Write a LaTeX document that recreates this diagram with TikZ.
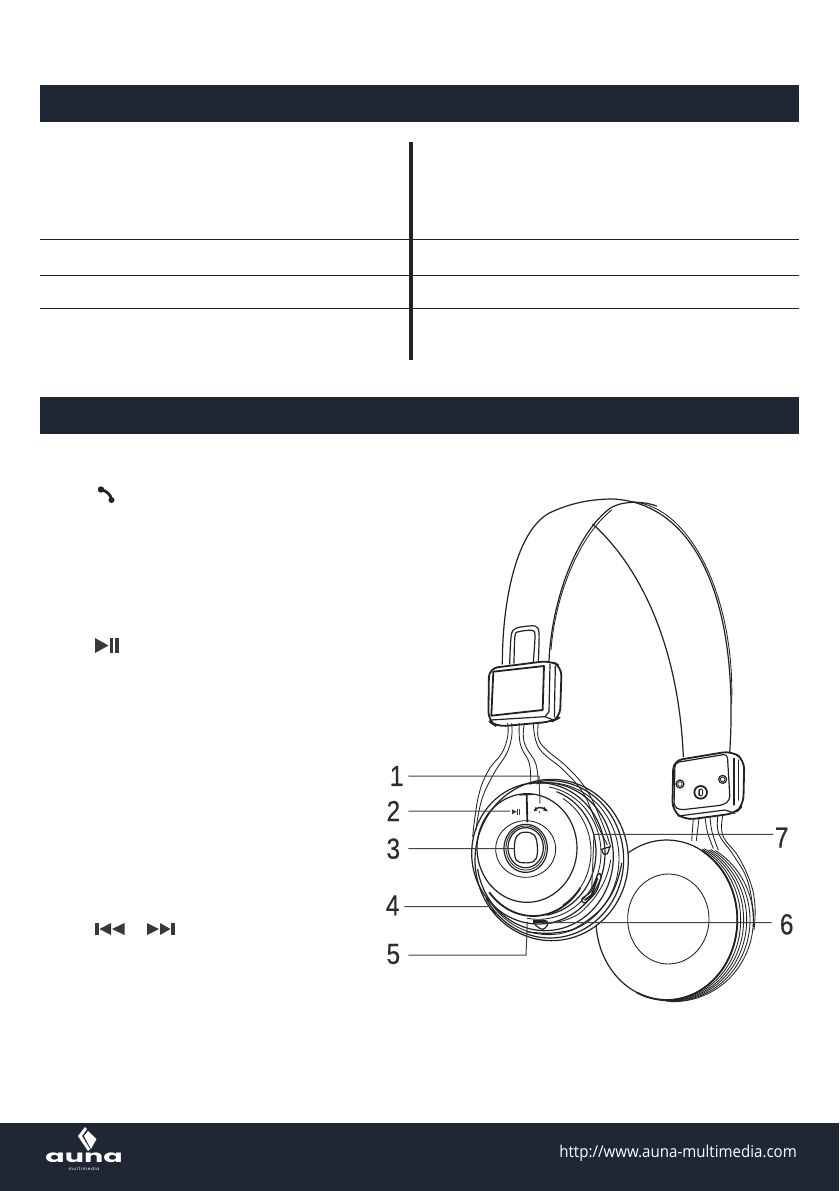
\documentclass[tikz,border=0pt]{standalone}
\usepackage{fontspec}
\setmainfont{Liberation Sans}
\newfontfamily\numfont[FakeBold=0.5]{Liberation Sans}
\newfontfamily\footfont{Open Sans}
\newfontfamily\logofont{Poppins}
\usetikzlibrary{calc}
\definecolor{navy}{HTML}{1F2735}
\definecolor{ink}{HTML}{222222}
\tikzset{
  bar/.style={fill=navy,draw=none},
  rule/.style={draw=ink,line width=1.1pt},
  thin line/.style={draw=ink,line width=.85pt,line join=round,line cap=round},
  med line/.style={draw=ink,line width=1.2pt,line join=round,line cap=round},
  heavy line/.style={draw=ink,line width=1.8pt,line join=round,line cap=round},
  lead/.style={draw=ink!85,line width=1pt},
  num/.style={font=\numfont\fontsize{29}{29}\selectfont,text=ink!95,inner sep=0pt,xscale=.84},
  icon/.style={fill=ink!90,draw=none},
}
% \earc{options}{cx}{cy}{rx}{ry}{start}{end}: elliptical arc in y-down coordinates
\newcommand{\earc}[7]{\draw[#1] plot[domain=#6:#7,samples=48,smooth] ({#2+#4*cos(\x)},{#3+#5*sin(\x)});}
\newcommand{\eclosed}[5]{\draw[#1] plot[domain=0:356,samples=60,smooth cycle] ({#2+#4*cos(\x)},{#3+#5*sin(\x)});}
\begin{document}
\begin{tikzpicture}[x=1pt,y=-1pt]
\useasboundingbox (0,0) rectangle (839,1191);
\fill[white] (0,0) rectangle (839,1191);
% bars
\fill[bar] (40,85) rectangle (799,122);
\fill[bar] (40,397) rectangle (799,434);
\fill[bar] (0,1123) rectangle (839,1191);
% table rules
\draw[rule] (40,239.5) -- (799,239.5);
\draw[rule] (40,275.5) -- (799,275.5);
\draw[rule] (40,308.5) -- (799,308.5);
\fill[ink] (409,142) rectangle (413,360);
% text-column icons
\draw[ink,line width=2.8pt,line cap=round] (101,490) .. controls (106,490) and (111,495) .. (111.5,499.5);
\fill[ink] (101,489.5) circle (3.2);
\fill[ink] (111.5,500) circle (3);
\fill[icon] (95,638) -- (108.5,645.5) -- (95,653) -- cycle;
\fill[icon] (109.5,638) rectangle (112.5,653);
\fill[icon] (115,638) rectangle (118.5,653);
\fill[icon] (95,923) rectangle (99,935);
\fill[icon] (111,923) -- (99.5,929) -- (111,935) -- cycle;
\fill[icon] (124.5,923) -- (112,929) -- (124.5,935) -- cycle;
\fill[icon] (147,923) -- (159,929) -- (147,935) -- cycle;
\fill[icon] (160,923) -- (170.5,929) -- (160,935) -- cycle;
\fill[icon] (171,923) rectangle (175,935);
% footer
\node[text=white,inner sep=0pt,anchor=east,xscale=.925,font=\footfont\fontsize{16.3}{16}\selectfont] (url) at (797,1153.5) {http://www.auna-multimedia.com};
\fill[white] (78,1136) -- (85,1127) -- (87,1129) -- (82,1136) -- (90,1149) -- (88,1151) -- cycle;
\fill[white] (88,1131) -- (96.5,1139) -- (91,1149) -- (84,1136) -- cycle;
\node[text=white,inner sep=0pt,xscale=1.68,font=\logofont\bfseries\fontsize{17}{17}\selectfont] (auna) at (84,1157.5) {auna};
\node[text=white,inner sep=0pt,font=\logofont\fontsize{4.2}{4}\selectfont] (multi) at (84,1168.5) {m\,u\,l\,t\,i\,m\,e\,d\,i\,a};

% headband and left block: zoom system A
\begin{scope}[shift={(370,490)},scale=1/3]
\draw[med line] (397,522) .. controls (397,330) and (440,120) .. (540,68) .. controls (600,40) and (660,27) .. (730,27) .. controls (970,40) and (1110,320) .. (1079,790);
\draw[thin line] (790,36) .. controls (960,50) and (1095,320) .. (1085,640);
\draw[med line] (537,512) .. controls (545,330) and (620,130) .. (720,55) .. controls (750,35) and (810,30) .. (860,48);
\draw[thin line] (543,480) .. controls (555,320) and (625,140) .. (725,60);
\draw[med line] (668,102) .. controls (800,220) and (925,450) .. (940,800);
% loop
\draw[med line] plot[smooth,tension=.5] coordinates {(419,522)(424,435)(440,414)(495,408)(507,430)(505,512)};
\draw[med line] plot[smooth,tension=.5] coordinates {(432,520)(435,437)(447,425)(485,421)(495,435)(490,515)};
% block
\draw[heavy line,fill=white,rounded corners=9pt] (357,535) -- (540,512) -- (575,530) -- (570,682) -- (545,695) -- (380,710) -- (355,692) -- cycle;
\draw[heavy line] (370,545) -- (522,528) -- (518,660) -- (364,677) -- cycle;
\draw[med line] (540,522) -- (537,665) -- (525,680);
\draw[med line] (556,528) -- (553,680);
\draw[med line] (362,690) -- (525,680) -- (550,690);
\end{scope}

% ear cups and right block: zoom system B
\begin{scope}[shift={(370,750)},scale=1/3]
% right cup
\earc{thin line}{910}{510}{240}{245}{-58}{92}
\earc{thin line}{906}{510}{234}{244}{-60}{94}
\earc{thin line}{902}{510}{228}{243}{-60}{96}
\earc{thin line}{899}{510}{222}{242}{-62}{98}
\earc{thin line}{895}{510}{217}{241}{-62}{100}
\eclosed{med line,fill=white}{890}{510}{212}{240}
\earc{heavy line}{890}{510}{212}{240}{-60}{115}
\eclosed{thin line}{895}{507}{122}{135}
\draw[thin line] plot[smooth,tension=.7] coordinates {(1045,190)(1046,250)(1090,315)(1130,385)(1148,470)(1150,530)};
\draw[thin line] plot[smooth,tension=.7] coordinates {(1060,190)(1058,255)(1105,320)(1142,400)(1155,470)(1152,540)};
\draw[thin line] plot[smooth,tension=.7] coordinates {(1005,198)(1012,245)(1030,295)};
\draw[thin line] plot[smooth,tension=.7] coordinates {(1020,198)(1026,245)(1045,300)};
\draw[thin line] (970,205) -- (965,272);
\draw[thin line] (987,205) -- (979,272);
% right block
\draw[heavy line,fill=white,rounded corners=9pt] (910,32) -- (1085,3) -- (1123,30) -- (1120,165) -- (1095,190) -- (945,210) -- (907,182) -- cycle;
\draw[med line,rounded corners=4pt] (915,38) -- (1072,12) -- (1080,150) -- (1060,165) -- (930,180) -- (912,170) -- cycle;
\draw[med line] (1092,25) -- (1092,165);
\draw[med line] (1105,30) -- (1105,150);
\draw[med line] (925,198) -- (1065,180) -- (1095,190);
\draw[med line] (930,102) circle (12);
\draw[thin line] (930,102) circle (7);
\draw[med line] (1058,88) circle (12);
\draw[thin line] (1058,88) circle (7);
\draw[heavy line] (992,127) circle (19);
\fill[ink,rounded corners=2pt] (985,116) rectangle (999,139);
\fill[white] (989,121) rectangle (995,135);
% left cup back fan
\eclosed{med line,fill=white}{545}{330}{230}{242}
\earc{med line}{540}{328}{221}{236}{-100}{150}
\earc{thin line}{535}{326}{212}{228}{-100}{150}
\earc{med line}{525}{320}{205}{222}{-95}{170}
% left cup front
\eclosed{med line}{505}{310}{200}{212}
\earc{thin line}{505}{308}{188}{200}{-80}{100}
\earc{med line}{500}{306}{178}{192}{-70}{80}
\earc{thin line}{495}{305}{168}{184}{-60}{60}
\eclosed{med line}{471}{294}{150}{163}
\earc{heavy line}{490}{300}{172}{198}{35}{140}
\eclosed{thin line}{467}{297}{90}{85}
\eclosed{med line}{467}{295}{65}{72}
\eclosed{thin line}{467}{294}{59}{66}
\eclosed{med line}{467}{293}{53}{60}
\draw[med line] plot[smooth cycle,tension=.6] coordinates {(435,272)(450,250)(480,248)(498,265)(502,310)(490,335)(450,337)(435,320)};
\draw[heavy line] (470,135) -- (472,215);
\draw[med line] (450,135) -- (490,133);
% lower detail arcs
\draw[thin line] plot[smooth,tension=.8] coordinates {(540,520)(600,505)(650,470)(700,400)(722,330)};
\draw[med line] plot[smooth,tension=.8] coordinates {(470,545)(560,548)(640,520)(720,440)(755,340)};
% wires (left block)
\draw[thin line] plot[smooth,tension=.7] coordinates {(425,-80)(425,-40)(410,10)(372,70)(335,150)(318,240)};
\draw[thin line] plot[smooth,tension=.7] coordinates {(413,-80)(413,-40)(395,10)(355,62)(325,140)(308,260)};
\draw[thin line] plot[smooth,tension=.7] coordinates {(448,-80)(448,-40)(455,-5)(478,40)(482,100)};
\draw[thin line] plot[smooth,tension=.7] coordinates {(463,-80)(460,-40)(470,-5)(497,40)(505,100)};
\draw[thin line] plot[smooth,tension=.7] coordinates {(490,-80)(497,-30)(520,10)(580,60)(640,130)(680,220)(712,285)};
\draw[thin line] plot[smooth,tension=.7] coordinates {(505,-80)(505,-35)(530,0)(590,50)(650,120)(695,215)(722,290)};
\draw[med line] (478,102) -- (508,96);
% cup icons
\fill[icon] (426,178) -- (440,185) -- (426,193) -- cycle;
\fill[icon] (442,177) rectangle (445,194);
\fill[icon] (448,177) rectangle (451,194);
\draw[ink,line width=1.4pt,line cap=round] (494,180) .. controls (500,170) and (520,170) .. (530,182);
\draw[ink,line width=1pt] (498,172) -- (494,182) -- (502,180);
\draw[ink,line width=1pt] (522,172) -- (530,182) -- (520,180);
\fill[ink] (508,186) circle (2.5);
\draw[med line] (695,298) -- (720,290) -- (712,312) -- (700,312) -- cycle;
\draw[med line,rounded corners=3pt] (632,447) -- (662,428) -- (685,368) -- (696,375) -- (680,425) -- (655,452) -- (640,462) -- cycle;
\draw[heavy line] (645,450) -- (665,435) -- (682,385);
\draw[med line] (360,475) -- (378,490);
\draw[med line,rounded corners=3pt] (488,514) -- (525,510) -- (538,518) -- (520,541) -- (498,528) -- cycle;
\fill[ink] (490,510) rectangle (528,518);
% leaders
\coordinate (e1) at (510,160);
\coordinate (e2) at (420,183);
\coordinate (e3) at (432,296);
\coordinate (e4) at (355,470);
\coordinate (e5) at (472,515);
\coordinate (e6) at (520,518);
\coordinate (e7) at (665,420);
\node[num] (n1) at (80,78) {1};
\node[num] (n2) at (70,183) {2};
\node[num] (n3) at (70,296) {3};
\node[num] (n4) at (68,466) {4};
\node[num] (n5) at (70,612) {5};
\node[num] (n6) at (1250,523) {6};
\node[num] (n7) at (1235,263) {7};
\draw[lead] (115,78) -- (507,78) -- (e1);
\draw[lead] (115,183) -- (e2);
\draw[lead] (115,296) -- (e3);
\draw[lead] (103,470) -- (e4);
\draw[lead] (115,615) -- (468,615) -- (e5);
\draw[lead] (1205,518) -- (e6);
\draw[lead] (1210,253) -- (672,253) -- (e7);
\end{scope}
\end{tikzpicture}
\end{document}
